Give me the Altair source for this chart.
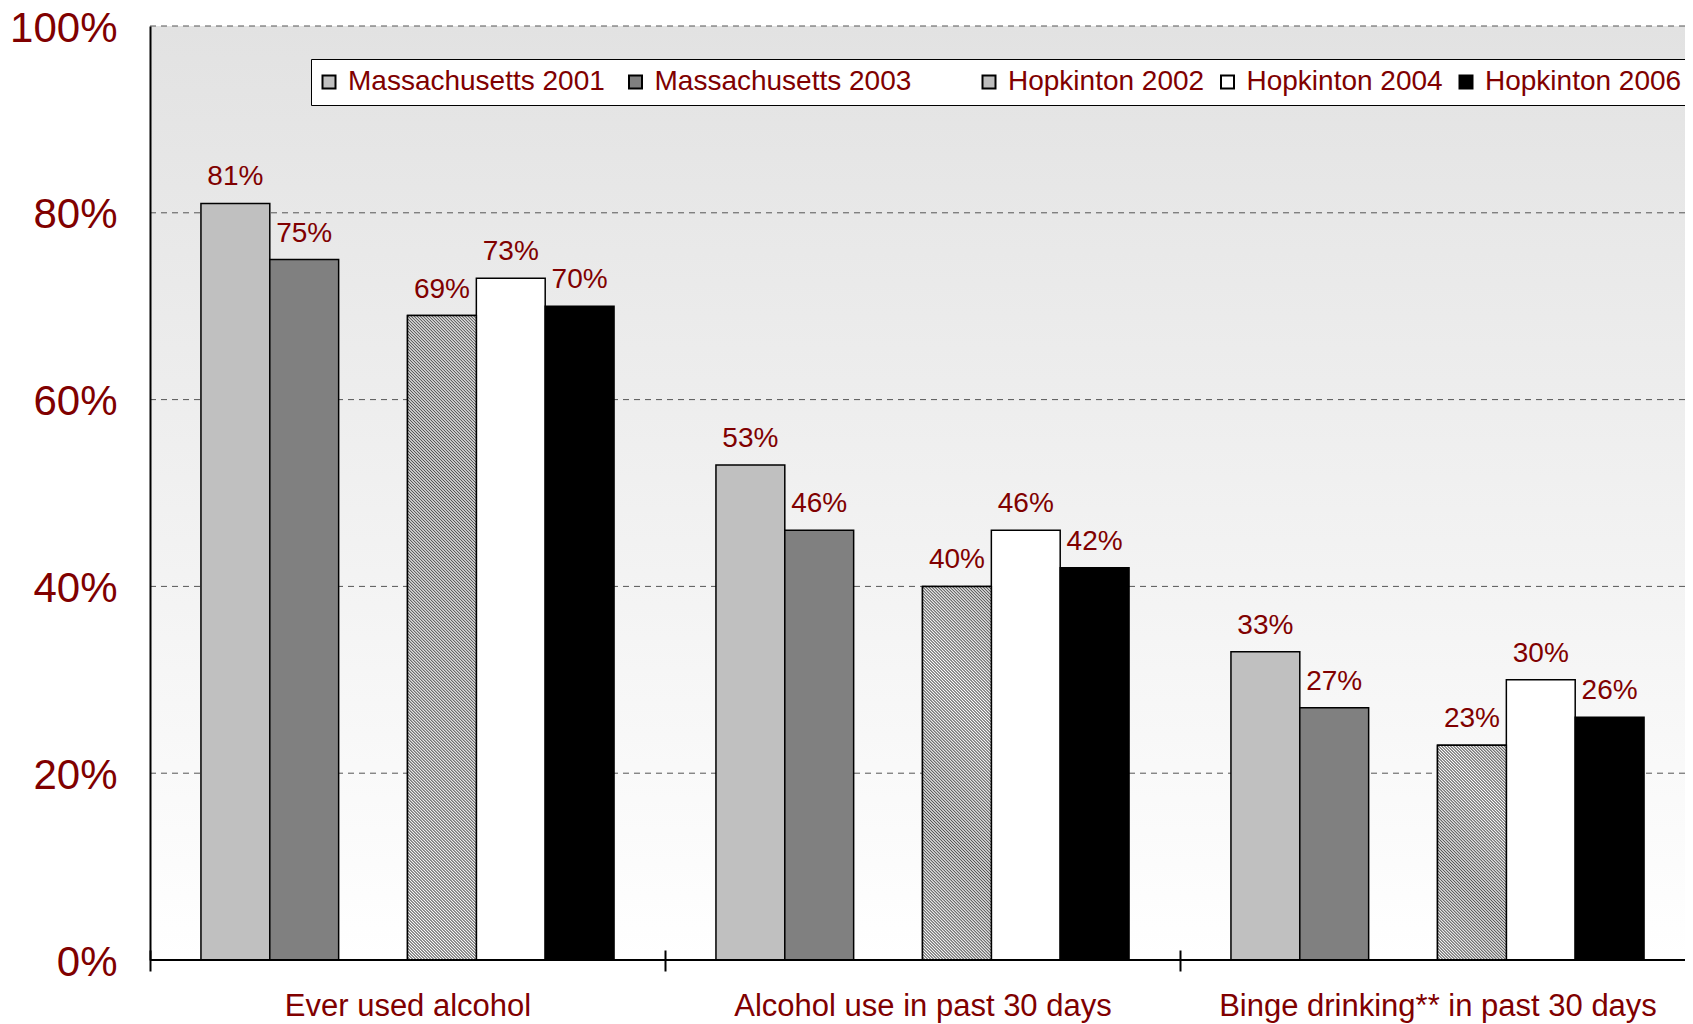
import math
import altair as alt
import pandas as pd

# ---------------- data ----------------
categories = ["Ever used alcohol", "Alcohol use in past 30 days", "Binge drinking** in past 30 days"]
series = ["Massachusetts 2001", "Massachusetts 2003", "Hopkinton 2002", "Hopkinton 2004", "Hopkinton 2006"]
ma_2001 = [81, 53, 33]
ma_2003 = [75, 46, 27]
hop_2002 = [69, 40, 23]
hop_2004 = [73, 46, 30]
hop_2006 = [70, 42, 26]
y_ticks = [0, 20, 40, 60, 80, 100]

series_values = dict(zip(series, [ma_2001, ma_2003, hop_2002, hop_2004, hop_2006]))
rows = []
for s, vals in series_values.items():
    for c, v in zip(categories, vals):
        rows.append({"category": c, "series": s, "value": v})
df = pd.DataFrame(rows)

# slot order inside each group (one empty slot between the two groups of bars)
slots = ["Massachusetts 2001", "Massachusetts 2003", "(gap)", "Hopkinton 2002", "Hopkinton 2004", "Hopkinton 2006"]
colors = ["#c0c0c0", "#808080", "#bdbdbd", "#ffffff", "#000000"]

# ---------------- style ----------------
W, H = 1545, 934
OUTER = 0.74
bar_w = W / len(categories) / (len(slots) + 2 * OUTER)
FONT = "Liberation Sans"
RED = "#800000"
H_PERIOD = 3.0       # horizontal period of the hatch in pixels
DARK = "#555555"


def hatch_gradient(v):
    """Fine diagonal '\\' hatch as a soft striped linear gradient (bbox units)."""
    h = v / 100.0 * H
    w = bar_w
    s = (w + h) / (w * w + h * h)
    n = max(1, int(round((w + h) / H_PERIOD)))
    stops = []
    for k in range(n):
        stops.append(alt.GradientStop(offset=round(k / n, 6), color=DARK))
        stops.append(alt.GradientStop(offset=round((k + 0.5) / n, 6), color="#ffffff"))
    stops.append(alt.GradientStop(offset=1, color=DARK))
    return alt.LinearGradient(gradient="linear", x1=0, y1=1,
                              x2=round(w * s, 6), y2=round(1 - h * s, 6), stops=stops)


x_enc = alt.X(
    "category:N",
    sort=categories,
    scale=alt.Scale(paddingInner=0, paddingOuter=0),
    axis=alt.Axis(
        title=None, labelAngle=0, labelFont=FONT, labelFontSize=31, labelColor=RED,
        labelPadding=20, labelBaseline="top", labelLimit=0, tickBand="extent",
        tickSize=21, tickColor="black", tickWidth=2, domain=False, offset=-10,
        grid=False, zindex=1,
    ),
)
xoff_enc = alt.XOffset("series:N", scale=alt.Scale(domain=slots, paddingInner=0, paddingOuter=OUTER))
y_enc = alt.Y(
    "value:Q",
    scale=alt.Scale(domain=[0, 100], nice=False),
    axis=alt.Axis(
        title=None, values=y_ticks, labelExpr="datum.value + '%'", labelFont=FONT,
        labelFontSize=42, labelColor=RED, labelPadding=33, labelOffset=2,
        ticks=False, tickSize=0, domain=True, domainColor="black", domainWidth=2,
        grid=False, zindex=1,
    ),
)

one_row = pd.DataFrame({"value": [0]})
grid_df = pd.DataFrame({"value": [t for t in y_ticks if t > 0]})

background = alt.Chart(one_row).mark_rect(
    fill=alt.LinearGradient(
        gradient="linear", x1=0, y1=0, x2=0, y2=1,
        stops=[alt.GradientStop(offset=0, color="#e2e2e2"),
               alt.GradientStop(offset=1, color="#ffffff")],
    )
).encode(x=alt.value(0), x2=alt.value("width"), y=alt.value(0), y2=alt.value("height"))

grid = alt.Chart(grid_df).mark_rule(stroke="#555555", strokeWidth=1, strokeDash=[6, 5]).encode(
    y=y_enc, x=alt.value(0), x2=alt.value("width")
)

# non-breaking spaces followed by a zero-width space (so they are not trimmed)
gap1 = "\u00a0" * 1 + "\u200b"
gap2 = "\u00a0" * 7 + "\u200b"
legend = alt.Legend(
    title=None, orient="none", legendX=161, legendY=33, direction="horizontal",
    columns=5, columnPadding=11.5, symbolType="square", symbolSize=169,
    symbolStrokeColor="black", symbolStrokeWidth=2, symbolOffset=-5,
    labelFont=FONT, labelFontSize=28,
    labelColor=RED, labelLimit=0, labelOffset=5, padding=9,
    strokeColor="black", fillColor="white",
    labelExpr=(f"datum.label == 'Massachusetts 2001' ? datum.label + '{gap1}' : "
               f"datum.label == 'Massachusetts 2003' ? datum.label + '{gap2}' : datum.label"),
)

bars = alt.Chart(df).mark_bar(stroke="black", strokeWidth=1.5).encode(
    x=x_enc, xOffset=xoff_enc, y=y_enc,
    color=alt.Color("series:N", scale=alt.Scale(domain=series, range=colors), legend=legend),
)

hatch_layers = []
for c, v in zip(categories, hop_2002):
    hatch_layers.append(
        alt.Chart(df)
        .transform_filter((alt.datum.series == "Hopkinton 2002") & (alt.datum.category == c))
        .mark_bar(fill=hatch_gradient(v), stroke="black", strokeWidth=1.5)
        .encode(x=x_enc, xOffset=xoff_enc, y=y_enc)
    )

zero_rule = alt.Chart(one_row).mark_rule(stroke="black", strokeWidth=2).encode(
    y=y_enc, x=alt.value(0), x2=alt.value("width")
)

labels = alt.Chart(df).transform_calculate(label="datum.value + '%'").mark_text(
    dy=-18, baseline="alphabetic", align="center", font=FONT, fontSize=28, color=RED
).encode(x=x_enc, xOffset=xoff_enc, y=y_enc, text="label:N")

chart = (
    alt.layer(background, grid, bars, *hatch_layers, zero_rule, labels)
    .properties(
        width=W, height=H,
        autosize=alt.AutoSizeParams(type="none"),
        padding={"left": 142, "top": 18, "right": -10, "bottom": 63},
    )
    .configure_view(stroke=None)
    .configure_legend(strokeWidth=2)
    .configure(background="white")
)

chart.save("out.html", embed_options={"renderer": "svg", "actions": False})
